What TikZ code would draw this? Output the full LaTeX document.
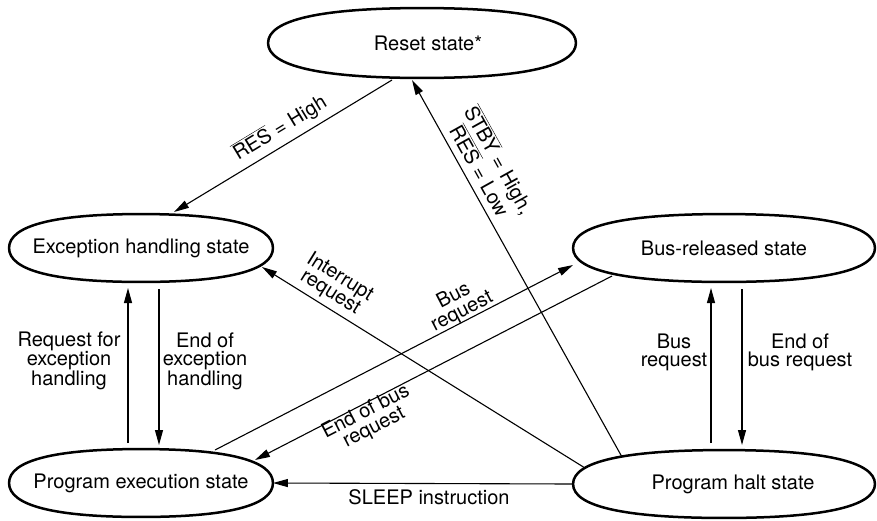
\documentclass[tikz,border=0pt]{standalone}
\usepackage{fontspec}
\setmainfont{TeX Gyre Heros}
\usetikzlibrary{arrows.meta,calc}
\tikzset{
  statebox/.style={rectangle, inner sep=0pt, minimum height=67.5pt, font=\fontsize{20}{18}\selectfont},
  outl/.style={line width=2.5pt, line join=round},
  conn/.style={line width=1.1pt, -{Triangle[length=15pt,width=8pt]}},
  lbl/.style={font=\fontsize{20}{18}\selectfont, align=center, inner sep=0pt},
}
\newcommand\kfac{0.66}
\newcommand\stateoutline[1]{%
  \draw[outl] (#1.east)
    .. controls ($(#1.east)!\kfac!(#1.north east)$) and ($(#1.north)!\kfac!(#1.north east)$) .. (#1.north)
    .. controls ($(#1.north)!\kfac!(#1.north west)$) and ($(#1.west)!\kfac!(#1.north west)$) .. (#1.west)
    .. controls ($(#1.west)!\kfac!(#1.south west)$) and ($(#1.south)!\kfac!(#1.south west)$) .. (#1.south)
    .. controls ($(#1.south)!\kfac!(#1.south east)$) and ($(#1.east)!\kfac!(#1.south east)$) .. (#1.east) -- cycle;}
\begin{document}
\begin{tikzpicture}[x=1pt,y=-1pt]
\useasboundingbox (0,0) rectangle (877,520);
% states
\node[statebox, minimum width=307.5pt, minimum height=69.5pt] (reset) at (422,43) {\hspace*{12pt}Reset state*};
\node[statebox, minimum width=263.5pt] (exc) at (141,248) {Exception handling state};
\node[statebox, minimum width=263.5pt] (pe) at (141,483) {Program execution state};
\node[statebox, minimum width=301.5pt] (br) at (724,248) {Bus-released state};
\node[statebox, minimum width=301.5pt] (halt) at (724,484) {\hspace*{18pt}Program halt state};
\stateoutline{reset}
\stateoutline{exc}
\stateoutline{pe}
\stateoutline{br}
\stateoutline{halt}
% connectors
\draw[conn] ($(reset)+(-30,37)$) -- ($(exc)+(33,-36)$);
\draw[conn] ($(halt)+(-102,-27)$) -- ($(reset)+(-10,37)$);
\draw[conn] ($(halt)+(-139,-16)$) -- ($(exc)+(121,19)$);
\draw[conn] ($(pe)+(74,-33)$) -- ($(br)+(-151,17)$);
\draw[conn] ($(br)+(-112,28)$) -- ($(pe)+(114,-23)$);
\draw[conn] (halt.west) -- (pe.east);
\draw[conn] ($(pe)+(-13,-40)$) -- ($(exc)+(-13,40)$);
\draw[conn] ($(exc)+(18,41)$) -- ($(pe)+(18,-38)$);
\draw[conn] ($(halt)+(-13,-41)$) -- ($(br)+(-13,40)$);
\draw[conn] ($(br)+(18,41)$) -- ($(halt)+(18,-39)$);
% labels
\node[lbl, rotate=31.2] (lres) at (280,128) {$\overline{\mbox{RES}}$ = High};
\node[lbl, rotate=-60.9] (lstby) at (490,165) {$\overline{\mbox{STBY}}$ = High,\\$\overline{\mbox{RES}}$ = Low};
\node[lbl, rotate=-31.9] (lint) at (335,285) {Interrupt\\request};
\node[lbl, rotate=27.3] (lbus) at (458,304) {Bus\\request};
\node[lbl, rotate=27.3] (lendbus) at (370,420) {End of bus\\request};
\node[lbl, anchor=base] (lsleep) at (429,504) {SLEEP instruction};
\node[lbl] (lreqexc) at (69,361) {Request for\\exception\\handling};
\node[lbl] (lendexc) at (205,361) {End of\\exception\\handling};
\node[lbl] (lbusr) at (674,352) {Bus\\request};
\node[lbl] (lendbusr) at (800,352) {End of\\bus request};
\end{tikzpicture}
\end{document}
